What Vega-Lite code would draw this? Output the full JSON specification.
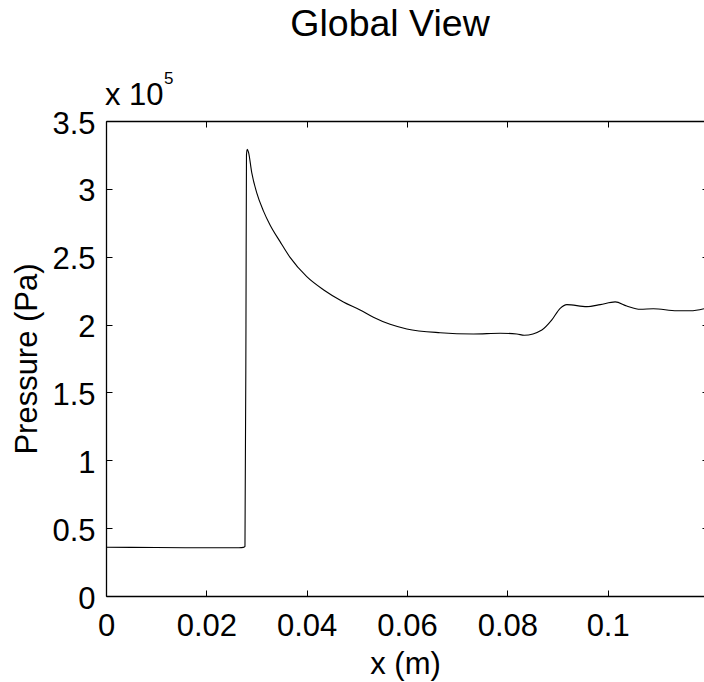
{
  "$schema": "https://vega.github.io/schema/vega-lite/v6.json",
  "width": 598,
  "height": 475,
  "autosize": {"type": "none"},
  "padding": {"left": 106, "top": 121, "right": 0, "bottom": 86},
  "background": "white",
  "config": {
    "view": {"stroke": null},
    "font": "Liberation Sans",
    "axis": {"grid": false, "domainColor": "black", "domainWidth": 1.3, "tickColor": "black", "tickWidth": 1, "labelColor": "black", "titleColor": "black", "labelFont": "Liberation Sans", "titleFont": "Liberation Sans", "labelFontSize": 31, "titleFontSize": 31, "titleFontWeight": "normal"}
  },
  "title": {"text": "Global View", "fontSize": 37.5, "fontWeight": "normal", "font": "Liberation Sans", "color": "black", "dx": -15, "dy": -23, "anchor": "middle", "frame": "group"},
  "data": {"values": [
    {"x": 0.0, "p": 35900},
    {"x": 0.01, "p": 35700},
    {"x": 0.02, "p": 35500},
    {"x": 0.0265, "p": 35600},
    {"x": 0.0274, "p": 35800},
    {"x": 0.0277, "p": 36500},
    {"x": 0.0279, "p": 200000},
    {"x": 0.028, "p": 325000},
    {"x": 0.02815, "p": 329200},
    {"x": 0.0284, "p": 327000},
    {"x": 0.02905, "p": 312000},
    {"x": 0.03005, "p": 297000},
    {"x": 0.03137, "p": 283800},
    {"x": 0.0327, "p": 273400},
    {"x": 0.0347, "p": 261100},
    {"x": 0.03669, "p": 249500},
    {"x": 0.04002, "p": 235300},
    {"x": 0.04333, "p": 225700},
    {"x": 0.04732, "p": 216700},
    {"x": 0.05065, "p": 210800},
    {"x": 0.0533, "p": 205400},
    {"x": 0.05663, "p": 200200},
    {"x": 0.05996, "p": 196800},
    {"x": 0.0666, "p": 194000},
    {"x": 0.07324, "p": 193100},
    {"x": 0.07856, "p": 193600},
    {"x": 0.08189, "p": 193100},
    {"x": 0.08335, "p": 192100},
    {"x": 0.08688, "p": 196000},
    {"x": 0.08887, "p": 203400},
    {"x": 0.09053, "p": 212000},
    {"x": 0.09187, "p": 214700},
    {"x": 0.09585, "p": 213200},
    {"x": 0.09851, "p": 214700},
    {"x": 0.1015, "p": 216700},
    {"x": 0.1038, "p": 213700},
    {"x": 0.1065, "p": 211300},
    {"x": 0.1091, "p": 211700},
    {"x": 0.1138, "p": 210200},
    {"x": 0.1165, "p": 210200},
    {"x": 0.1192, "p": 211700}
  ]},
  "layer": [
    {
      "mark": {"type": "line", "color": "black", "strokeWidth": 1.1, "interpolate": "monotone"},
      "encoding": {
        "x": {"field": "x", "type": "quantitative", "scale": {"domain": [0, 0.1192], "nice": false, "zero": false},
          "axis": {"orient": "bottom", "values": [0, 0.02, 0.04, 0.06, 0.08, 0.1], "format": "~g", "tickSize": -6, "labelPadding": 21.5, "title": "x (m)", "titleBaseline": "alphabetic", "titleY": 77.5, "labelFlush": false, "labelOverlap": false}},
        "y": {"field": "p", "type": "quantitative", "scale": {"domain": [0, 350000], "nice": false},
          "axis": {"orient": "left", "values": [0, 50000, 100000, 150000, 200000, 250000, 300000, 350000], "labelExpr": "format(datum.value/100000, '~g')", "tickSize": -6, "labelPadding": 17, "labelOffset": 3, "title": "Pressure (Pa)", "titleX": -63, "titleY": 237.5, "titleBaseline": "bottom", "labelFlush": false, "labelOverlap": false}}
      }
    },
    {
      "mark": {"type": "line", "opacity": 0},
      "encoding": {
        "x": {"field": "x", "type": "quantitative", "scale": {"domain": [0, 0.1192], "nice": false, "zero": false},
          "axis": {"orient": "top", "values": [0, 0.02, 0.04, 0.06, 0.08, 0.1], "tickSize": -6, "labels": false, "title": null}},
        "y": {"field": "p", "type": "quantitative", "scale": {"domain": [0, 350000], "nice": false},
          "axis": {"orient": "right", "values": [0, 50000, 100000, 150000, 200000, 250000, 300000, 350000], "tickSize": -2, "labels": false, "domain": false, "title": null}}
      }
    },
    {
      "data": {"values": [{"t": "x 10"}]},
      "mark": {"type": "text", "align": "left", "baseline": "alphabetic", "fontSize": 31, "font": "Liberation Sans", "color": "black", "dx": -1, "dy": -16},
      "encoding": {
        "text": {"field": "t"},
        "x": {"datum": 0, "type": "quantitative", "axis": null, "scale": {"domain": [0, 0.1192], "nice": false, "zero": false}},
        "y": {"datum": 350000, "type": "quantitative", "axis": null, "scale": {"domain": [0, 350000], "nice": false}}
      }
    },
    {
      "data": {"values": [{"t": "5"}]},
      "mark": {"type": "text", "align": "left", "baseline": "alphabetic", "fontSize": 17, "font": "Liberation Sans", "color": "black", "dx": 58, "dy": -37},
      "encoding": {
        "text": {"field": "t"},
        "x": {"datum": 0, "type": "quantitative", "axis": null, "scale": {"domain": [0, 0.1192], "nice": false, "zero": false}},
        "y": {"datum": 350000, "type": "quantitative", "axis": null, "scale": {"domain": [0, 350000], "nice": false}}
      }
    }
  ],
  "resolve": {"axis": {"x": "independent", "y": "independent"}}
}
